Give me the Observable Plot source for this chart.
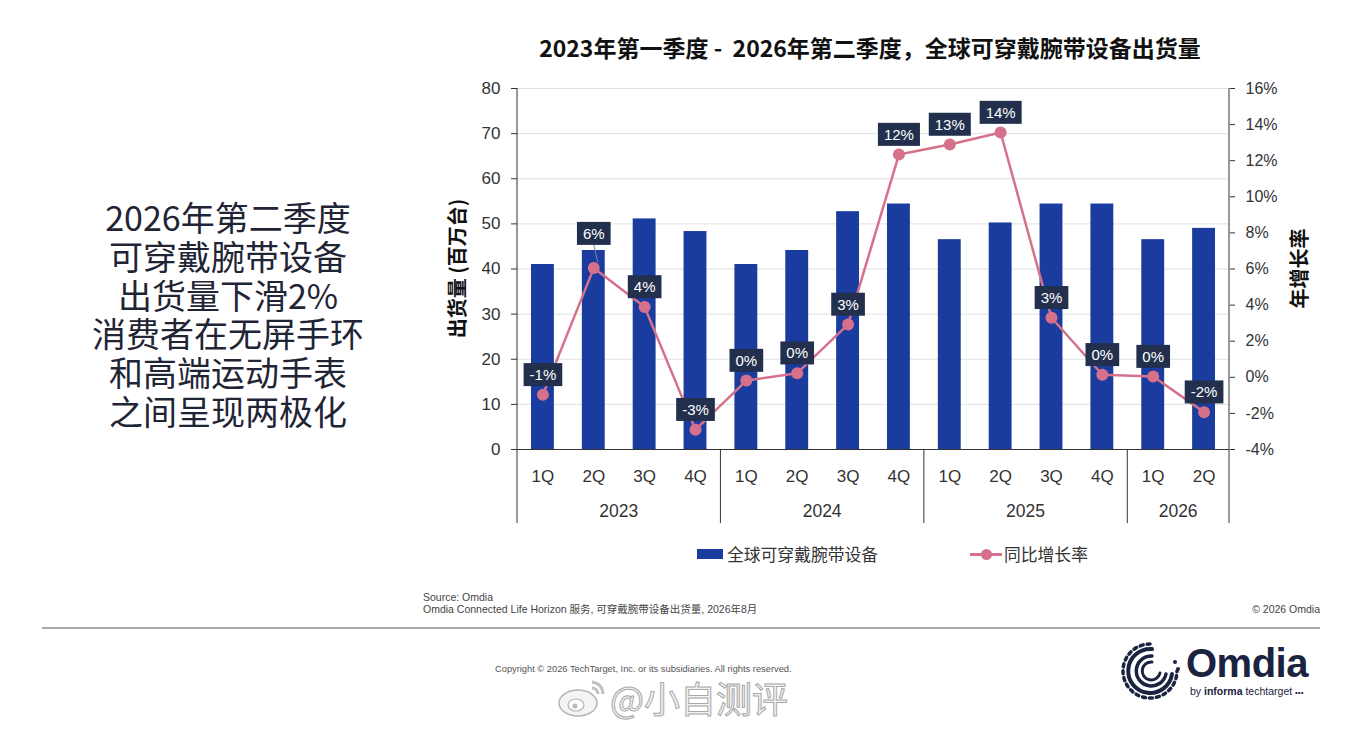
<!DOCTYPE html>
<html>
<head>
<meta charset="utf-8">
<script src="https://cdn.jsdelivr.net/npm/d3@7"></script>
<script src="https://cdn.jsdelivr.net/npm/@observablehq/plot@0.6"></script>
<style>
  body { margin: 0; background: #fff; }
  #page { position: relative; width: 1346px; height: 730px; overflow: hidden; background: #fff;
          font-family: "Noto Sans CJK SC", "Liberation Sans", sans-serif; }
  #chart { position: absolute; left: 0; top: 0; }
  .abs { position: absolute; white-space: nowrap; }
  #title { left: 370px; width: 1000px; top: 32px; text-align: center; font-size: 23px; font-weight: 700;
           color: #111; line-height: 30px; }
  #lede { left: 28px; width: 400px; top: 198px; text-align: center; font-size: 34px;
          color: #1f2535; font-weight: 400; }
  #lede div { height: 38.8px; line-height: 38.8px; }
  .legend-text { font-size: 16.8px; color: #333; line-height: 20px; top: 544px; }
  .foot { font-family: "Liberation Sans", "Noto Sans CJK SC", sans-serif; color: #444; font-size: 10.5px; line-height: 12px; }
</style>
</head>
<body>
<div id="page">
  <div id="title" class="abs">2023年第一季度 -&nbsp; 2026年第二季度，全球可穿戴腕带设备出货量</div>
  <div id="lede" class="abs"><div>2026年第二季度</div><div>可穿戴腕带设备</div><div>出货量下滑2%</div><div>消费者在无屏手环</div><div>和高端运动手表</div><div>之间呈现两极化</div></div>
  <div id="chart"></div>

  <!-- legend -->
  <div class="abs" style="left:697px;top:549px;width:26px;height:10px;background:#1b3c9f;"></div>
  <div class="abs legend-text" style="left:727px;">全球可穿戴腕带设备</div>
  <div class="abs" style="left:970px;top:553px;width:32px;height:2.5px;background:#d6718b;"></div>
  <div class="abs" style="left:981px;top:549px;width:11px;height:11px;border-radius:50%;background:#d6718b;"></div>
  <div class="abs legend-text" style="left:1004px;">同比增长率</div>

  <!-- footer -->
  <div class="abs foot" style="left:423px;top:591px;">Source: Omdia</div>
  <div class="abs foot" style="left:423px;top:603px;">Omdia Connected Life Horizon 服务, 可穿戴腕带设备出货量, 2026年8月</div>
  <div class="abs foot" style="right:26px;top:603px;">© 2026 Omdia</div>
  <div class="abs" style="left:42px;top:627px;width:1278px;height:2px;background:#a9a9a9;"></div>
  <div class="abs foot" style="left:495px;top:664px;font-size:9.3px;line-height:10px;color:#555;">Copyright © 2026 TechTarget, Inc. or its subsidiaries. All rights reserved.</div>

  <!-- watermark -->
  <svg class="abs" style="left:556px;top:676px;" width="52" height="44" viewBox="0 0 52 44">
    <ellipse cx="22" cy="27" rx="19" ry="13" fill="#f4f4f4" stroke="#b5b5b5" stroke-width="1.5"/>
    <ellipse cx="20" cy="29" rx="8" ry="6" fill="#fff" stroke="#b5b5b5" stroke-width="1.2"/>
    <circle cx="19" cy="30" r="2.5" fill="#bbb"/>
    <path d="M36 6 A12 12 0 0 1 47 18" fill="none" stroke="#c0c0c0" stroke-width="3"/>
    <path d="M36 12 A6 6 0 0 1 42 18" fill="none" stroke="#c0c0c0" stroke-width="3"/>
  </svg>
  <div class="abs" style="left:610px;top:679px;height:36px;font-size:36px;line-height:36px;color:#f3f3f3;
       -webkit-text-stroke:1px #a8a8a8;font-family:'Noto Sans CJK SC',sans-serif;">@小自测评</div>

  <!-- Omdia logo -->
  <svg class="abs" style="left:1120px;top:640px;" width="64" height="62" viewBox="0 0 64 62">
    <g fill="none" stroke="#1a2340" stroke-linecap="round">
      <path d="M30 4 A27 27 0 1 0 57 31" stroke-width="3.5" stroke-dasharray="3 4"/>
      <path d="M32 9 A22 22 0 1 0 52 34" stroke-width="4"/>
      <path d="M32 16 A15 15 0 1 0 46 34" stroke-width="3.5"/>
      <path d="M32 22 A9 9 0 1 0 40 33" stroke-width="3"/>
    </g>
    <circle cx="55" cy="22" r="2" fill="#1a2340"/>
    <circle cx="58" cy="29" r="2" fill="#1a2340"/>
  </svg>
  <div class="abs" style="left:1186px;top:641px;font-size:40px;line-height:44px;font-weight:700;color:#1a2340;
       font-family:'Liberation Sans',sans-serif;letter-spacing:-0.5px;">Omdia</div>
  <div class="abs" style="left:1190px;top:684px;font-size:10.5px;line-height:14px;color:#1a2340;
       font-family:'Liberation Sans',sans-serif;">by <b>informa</b> techtarget <span style="font-size:8px;">•••</span></div>
</div>

<script>
// ---------- data ----------
const years = ["2023", "2024", "2025", "2026"];
const quarterYears = ["2023","2023","2023","2023","2024","2024","2024","2024","2025","2025","2025","2025","2026","2026"];
const quarters = ["1Q","2Q","3Q","4Q","1Q","2Q","3Q","4Q","1Q","2Q","3Q","4Q","1Q","2Q"];
const shipments = [41.0, 44.1, 51.1, 48.3, 41.0, 44.1, 52.7, 54.4, 46.5, 50.2, 54.4, 54.4, 46.5, 49.0]; // 百万台
const growth = [-0.97, 6.05, 3.9, -2.9, -0.18, 0.23, 2.93, 12.34, 12.9, 13.56, 3.3, 0.14, 0.04, -1.93]; // %
const growthLabels = ["-1%","6%","4%","-3%","0%","0%","3%","12%","13%","14%","3%","0%","0%","-2%"];
const leftTicks = [0, 10, 20, 30, 40, 50, 60, 70, 80];
const rightTicks = [-4, -2, 0, 2, 4, 6, 8, 10, 12, 14, 16];
const leftTitle = "出货量 (百万台)";
const rightTitle = "年增长率";

// ---------- derived ----------
const rows = quarters.map((q, i) => ({
  key: quarterYears[i] + "-" + q, q, year: quarterYears[i],
  ship: shipments[i], pct: growth[i], label: growthLabels[i]
}));
const [leftMin, leftMax] = [leftTicks[0], leftTicks[leftTicks.length - 1]];
const [pctMin, pctMax] = [rightTicks[0], rightTicks[rightTicks.length - 1]];
const toLeft = p => leftMin + (p - pctMin) * (leftMax - leftMin) / (pctMax - pctMin);
const toPct = v => pctMin + (v - leftMin) * (pctMax - pctMin) / (leftMax - leftMin);

const BAR = "#1b3c9f", LINE = "#d6718b", BOX = "#22304d", INK = "#333";
const quarterOf = new Map(rows.map(d => [d.key, d.q]));

const plot = Plot.plot({
  width: 1346, height: 580,
  marginTop: 88, marginBottom: 131, marginLeft: 517, marginRight: 117,
  style: { fontFamily: '"Liberation Sans","Noto Sans CJK SC",sans-serif', fontSize: "16px", color: INK,
           background: "transparent", overflow: "visible" },
  x: { type: "band", domain: rows.map(d => d.key), paddingInner: 0.55, paddingOuter: 0.275, align: 0.5, round: false },
  y: { domain: [leftMin, leftMax] },
  marks: [
    Plot.gridY(leftTicks, { stroke: "#e0e0e0", strokeOpacity: 1 }),
    Plot.axisY({ anchor: "left", ticks: leftTicks, tickSize: 6, tickPadding: 11, fontSize: 17, label: null, stroke: INK }),
    Plot.axisY({ anchor: "right", ticks: rightTicks.map(toLeft), tickFormat: d => Math.round(toPct(d)) + "%",
                 tickSize: 5, tickPadding: 11, fontSize: 16, label: null, stroke: INK }),
    Plot.axisX({ tickSize: 0, tickPadding: 20, fontSize: 17, label: null, tickFormat: k => quarterOf.get(k) }),
    Plot.barY(rows, { x: "key", y: "ship", fill: BAR }),
    Plot.ruleY([leftMin], { stroke: INK, strokeWidth: 1 }),
    Plot.lineY(rows, { x: "key", y: d => toLeft(d.pct), stroke: LINE, strokeWidth: 2.5 }),
    Plot.dot(rows, { x: "key", y: d => toLeft(d.pct), r: 6, fill: LINE, stroke: "none" }),
    Plot.text(rows, { x: "key", y: d => toLeft(d.pct), text: "label", filter: (d, i) => i !== 1,
                      dy: -19.5, fill: "white", fontSize: 15 }),
    Plot.text(rows, { x: "key", y: d => toLeft(d.pct), text: "label", filter: (d, i) => i === 1,
                      dy: -34, fill: "white", fontSize: 15 })
  ]
});
document.getElementById("chart").appendChild(plot);

// ---------- boxes behind growth labels ----------
const svg = d3.select(plot);
const textGroups = svg.selectAll('g[aria-label="text"]').nodes();
function boxLabels(group, leader) {
  d3.select(group).selectAll("text").each(function () {
    const t = this, bb = t.getBBox();
    const tr = t.getAttribute("transform");
    const cy = bb.y + bb.height / 2, h = 23;
    const r = document.createElementNS("http://www.w3.org/2000/svg", "rect");
    r.setAttribute("x", bb.x - 6); r.setAttribute("y", cy - h / 2);
    r.setAttribute("width", bb.width + 12); r.setAttribute("height", h);
    r.setAttribute("fill", BOX);
    if (tr) r.setAttribute("transform", tr);
    t.parentNode.insertBefore(r, t);
    if (leader) {
      const l = document.createElementNS("http://www.w3.org/2000/svg", "line");
      const cx = bb.x + bb.width / 2;
      l.setAttribute("x1", cx); l.setAttribute("y1", cy + h / 2);
      l.setAttribute("x2", cx + 4); l.setAttribute("y2", cy + leader - 5);
      l.setAttribute("stroke", "#7d8aa6"); l.setAttribute("stroke-width", 1);
      if (tr) l.setAttribute("transform", tr);
      t.parentNode.insertBefore(l, r);
    }
  });
}
boxLabels(textGroups[0], 0);
boxLabels(textGroups[1], 34);

// ---------- year grouping axis, frame lines, axis titles ----------
const xs = plot.scale("x"), ys = plot.scale("y");
const gap = xs.step - xs.bandwidth;
const y0 = ys.apply(leftMin), yTop = ys.apply(leftMax);
const groupDepth = 74, yearOffset = 62;
const g = svg.append("g").attr("aria-label", "year-axis");
const [xL, xR] = xs.range;
g.append("line").attr("x1", xL).attr("x2", xL).attr("y1", yTop).attr("y2", y0 + groupDepth).attr("stroke", INK);
g.append("line").attr("x1", xR).attr("x2", xR).attr("y1", yTop).attr("y2", y0 + groupDepth).attr("stroke", INK);
years.forEach((yr, j) => {
  const keys = rows.filter(d => d.year === yr).map(d => d.key);
  const start = xs.apply(keys[0]) - gap / 2;
  const end = xs.apply(keys[keys.length - 1]) + xs.bandwidth + gap / 2;
  if (j > 0) g.append("line").attr("x1", start).attr("x2", start).attr("y1", y0).attr("y2", y0 + groupDepth).attr("stroke", INK);
  g.append("text").attr("x", (start + end) / 2).attr("y", y0 + yearOffset).attr("dy", "0.35em")
    .attr("text-anchor", "middle").attr("font-size", 17.5).attr("fill", INK).text(yr);
});
const yMid = (yTop + y0) / 2;
[[leftTitle, xL - 59], [rightTitle, xR + 71]].forEach(([txt, x]) => {
  g.append("text").attr("transform", `translate(${x},${yMid}) rotate(-90)`).attr("dy", "0.35em")
    .attr("text-anchor", "middle").attr("font-size", 20).attr("font-weight", 700)
    .attr("font-family", '"Noto Sans CJK SC",sans-serif').attr("fill", "#111").text(txt);
});
</script>
</body>
</html>
